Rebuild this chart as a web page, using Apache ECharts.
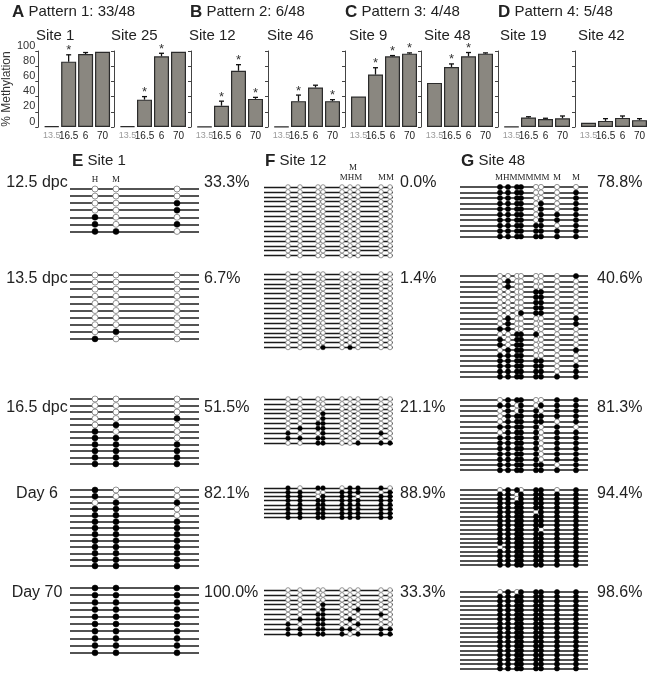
<!DOCTYPE html>
<html>
<head>
<meta charset="utf-8">
<script src="https://cdn.jsdelivr.net/npm/echarts@6/dist/echarts.min.js"></script>
<style>
  html, body { margin: 0; background: #fff; }
  #main { width: 650px; height: 676px; }
</style>
</head>
<body>
<div id="main"></div>
<script>
var FONT = '"Liberation Sans", Arial, sans-serif'
var SERIF = '"Liberation Serif", "DejaVu Serif", serif'

// A-D: % methylation at 13.5 dpc, 16.5 dpc, day 6, day 70
var ages = ['13.5', '16.5', '6', '70']
var siteNames = ['Site 1', 'Site 25', 'Site 12', 'Site 46', 'Site 9', 'Site 48', 'Site 19', 'Site 42']
var meth = [
  [1, 86, 96, 99],
  [1, 36, 93, 99],
  [0.5, 28, 74, 37],
  [0.5, 34, 52, 34],
  [40, 69, 93, 96.5],
  [58, 79, 93, 96.5],
  [0.5, 12.5, 10.5, 11.5],
  [5.5, 8, 12, 9],
]
var methErr = [
  [0, 9, 2, 0],
  [0, 4, 4, 0],
  [0, 6, 8, 2],
  [0, 8, 3, 2],
  [0, 9, 1, 1],
  [0, 4, 5, 1],
  [0, 1, 1, 3],
  [0, 3, 2.5, 2],
]
var methStar = [
  [0, 1, 0, 0],
  [0, 1, 1, 0],
  [0, 1, 1, 1],
  [0, 1, 0, 1],
  [0, 1, 1, 1],
  [0, 1, 1, 0],
  [0, 0, 0, 0],
  [0, 0, 0, 0],
]
var patternTitles = ['{b|A} Pattern 1: 33/48', '{b|B} Pattern 2: 6/48', '{b|C} Pattern 3: 4/48', '{b|D} Pattern 4: 5/48']

// E-G: bisulfite clones, 1 = methylated CpG, 0 = unmethylated
var stages = ['12.5 dpc', '13.5 dpc', '16.5 dpc', 'Day 6', 'Day 70']
var cpgE = [25, 46, 107]
var cpgF = [24, 36, 54, 59, 78, 86, 94, 117, 126]
var cpgG = [40, 48, 57, 61, 76, 81, 97, 116]

var patE = [
  ['000', '000', '001', '001', '100', '101', '110'],
  ['000', '000', '000', '000', '000', '000', '000', '000', '010', '100'],
  ['000', '000', '000', '001', '010', '100', '110', '111', '111', '111', '111'],
  ['100', '100', '011', '110', '110', '111', '111', '111', '111', '111', '111', '111', '111'],
  ['111', '111', '111', '111', '111', '111', '111', '111', '111', '111'],
]
var patF = [
  ['000000000', '000000000', '000000000', '000000000', '000000000', '000000000', '000000000', '000000000',
   '000000000', '000000000', '000000000', '000000000', '000000000', '000000000', '000000000'],
  ['000000000', '000000000', '000000000', '000000000', '000000000', '000000000', '000000000', '000000000',
   '000000000', '000000000', '000000000', '000000000', '000000000', '000000000', '000000000', '000101000'],
  ['000000000', '000000000', '000000000', '000100000', '000100000', '001100000', '011100000', '100100010',
   '111100000', '001100111'],
  ['101101110', '110011101', '110111011', '111111111', '111111111', '111111111', '111111111', '111111111'],
  ['000000000', '000000000', '000000000', '000100000', '000100100', '001100010', '011101000', '101100100',
   '111111011', '111110111'],
]
var patG = [
  ['11110000', '11110001', '11110001', '11110101', '11110101', '11110111', '11110111', '11111101',
   '11111111', '11111111'],
  ['00000001', '01000000', '01000000', '00001100', '00001100', '00001100', '00001100', '00011100',
   '01000001', '01000001', '11000000', '00111000', '10110000', '10110000', '01110001', '11110000',
   '11111100', '11111101', '11111101', '11111111'],
  ['01110011', '11010111', '01011011', '01111111', '01111101', '11111010', '01111011', '11111011',
   '11111011', '11111011', '11111011', '11111011', '11111101', '11111111'],
  ['01101101', '11011111', '11011111', '11111111', '11111111', '11110111', '11111111', '11111111',
   '11111111', '11111011', '11111111', '11111111', '11111111', '01111111', '11111111', '11111111',
   '11111111', '11111111'],
  ['01011111', '11111111', '11111111', '11111111', '11111111', '11111111', '11111111', '11111111',
   '11111111', '11111111', '11111111', '11111111', '11111111', '11111111', '11111111', '11111111',
   '11111111', '11111111'],
]
var pctE = ['33.3%', '6.7%', '51.5%', '82.1%', '100.0%']
var pctF = ['0.0%', '1.4%', '21.1%', '88.9%', '33.3%']
var pctG = ['78.8%', '40.6%', '81.3%', '94.4%', '98.6%']

var chart = echarts.init(document.getElementById('main'))

var grids = []
var xAxes = []
var yAxes = []
var series = []
var graphics = []

function addText(text, x, y, size, opts) {
  opts = opts || {}
  graphics.push({
    type: 'text',
    x: x,
    y: y,
    style: {
      text: text,
      fontSize: size,
      fontFamily: opts.family || FONT,
      fill: opts.fill || '#222',
      align: opts.align || 'left',
      verticalAlign: 'middle',
      rich: {
        b: { fontSize: size + 2, fontWeight: 'bold', fontFamily: FONT, fill: '#222' },
      },
    },
  })
}

// error bar and asterisk on top of each bar
function renderErr(params, api) {
  var v = api.value(1)
  var e = api.value(2)
  var top = api.coord([api.value(0), v + e])
  var base = api.coord([api.value(0), v])
  var kids = []
  if (e > 0) {
    kids.push({ type: 'line', shape: { x1: top[0], y1: top[1], x2: base[0], y2: base[1] }, style: { stroke: '#111', lineWidth: 1.3 } })
    kids.push({ type: 'line', shape: { x1: top[0] - 2.5, y1: top[1], x2: top[0] + 2.5, y2: top[1] }, style: { stroke: '#111', lineWidth: 1.3 } })
  }
  if (api.value(3)) {
    kids.push({
      type: 'text',
      style: { text: '*', x: top[0], y: top[1] - 4, align: 'center', verticalAlign: 'middle', fontSize: 13, fontFamily: FONT, fill: '#333' },
    })
  }
  return { type: 'group', children: kids }
}

//柱状图 A-D
var barLeft = [43, 119, 196, 273, 350, 426, 503, 580]
var siteX = [36, 111, 189, 267, 349, 424, 500, 578]
siteNames.forEach(function (name, i) {
  grids.push({ left: barLeft[i], top: 51, width: 68, height: 76 })
  xAxes.push({
    type: 'category',
    gridIndex: i,
    data: ages,
    axisLine: { show: false },
    axisTick: { show: false },
    axisLabel: {
      interval: 0,
      margin: 4,
      fontSize: 10,
      color: '#222',
      fontFamily: FONT,
      formatter: function (v) {
        return v === '13.5' ? '{g|' + v + '}' : v
      },
      rich: { g: { color: '#9a9a9a', fontSize: 9, fontFamily: FONT } },
    },
  })
  yAxes.push({
    type: 'value',
    gridIndex: i,
    min: 0,
    max: 100,
    interval: 20,
    offset: 5,
    name: i === 0 ? '% Methylation' : '',
    nameLocation: 'middle',
    nameGap: 24,
    nameRotate: 90,
    nameTextStyle: { fontSize: 12, color: '#333', fontFamily: FONT },
    axisLine: { show: true, lineStyle: { color: '#444', width: 1 } },
    axisTick: { show: true, length: 3, lineStyle: { color: '#444' } },
    splitLine: { show: false },
    axisLabel: { show: i === 0, fontSize: 11, color: '#333', fontFamily: FONT, margin: 3, verticalAlign: 'bottom' },
  })
  series.push({
    type: 'bar',
    xAxisIndex: i,
    yAxisIndex: i,
    data: meth[i],
    barWidth: 15,
    itemStyle: { color: '#8a8780', borderColor: '#2b2b2b', borderWidth: 1.2 },
  })
  series.push({
    type: 'custom',
    xAxisIndex: i,
    yAxisIndex: i,
    data: meth[i].map(function (v, k) {
      return [k, v, methErr[i][k], methStar[i][k]]
    }),
    renderItem: renderErr,
    z: 5,
  })
  addText(name, siteX[i], 36, 15)
})

var titleX = [12, 190, 345, 498]
patternTitles.forEach(function (t, i) {
  addText(t, titleX[i], 12, 15)
})

//甲基化克隆 E-G
var panels = [
  { title: '{b|E} Site 1', titleX: 72, cpg: cpgE, pat: patE, pct: pctE, left: 70, width: 129, pctX: 204, dot: 6, lw: 1.7,
    first: [189, 275, 399, 490, 588], step: [7.07, 7.1, 6.5, 6.33, 7.2] },
  { title: '{b|F} Site 12', titleX: 265, cpg: cpgF, pat: patF, pct: pctF, left: 264, width: 129, pctX: 400, dot: 4.6, lw: 1.3,
    first: [187, 274, 399, 488, 590], step: [4.9, 4.9, 4.9, 4.2, 4.9] },
  { title: '{b|G} Site 48', titleX: 461, cpg: cpgG, pat: patG, pct: pctG, left: 460, width: 128, pctX: 597, dot: 5.2, lw: 1.5,
    first: [187, 276, 400, 490, 592], step: [5.5, 5.3, 5.4, 4.4, 4.5] },
]
var labelY = [183, 279, 408, 494, 593]

panels.forEach(function (p) {
  addText(p.title, p.titleX, 161, 15)
  p.pat.forEach(function (rows, b) {
    var g = grids.length
    var n = rows.length
    grids.push({ left: p.left, top: p.first[b], width: p.width, height: (n - 1) * p.step[b] })
    xAxes.push({ type: 'value', gridIndex: g, min: 0, max: p.width, show: false, splitLine: { show: false } })
    yAxes.push({
      type: 'value',
      gridIndex: g,
      min: 0,
      max: n - 1,
      interval: 1,
      inverse: true,
      axisLine: { show: false },
      axisTick: { show: false },
      axisLabel: { show: false },
      splitLine: { show: true, lineStyle: { color: '#1a1a1a', width: p.lw } },
    })
    var filled = []
    var open = []
    rows.forEach(function (row, r) {
      p.cpg.forEach(function (x, c) {
        ;(row[c] === '1' ? filled : open).push([x, r])
      })
    })
    series.push({
      type: 'scatter', xAxisIndex: g, yAxisIndex: g, data: open, symbolSize: p.dot, clip: false,
      itemStyle: { color: '#fff', borderColor: '#777', borderWidth: 0.8, opacity: 1 },
    })
    series.push({
      type: 'scatter', xAxisIndex: g, yAxisIndex: g, data: filled, symbolSize: p.dot, clip: false,
      itemStyle: { color: '#000', borderColor: '#000', borderWidth: 0.5, opacity: 1 },
    })
    addText(p.pct[b], p.pctX, labelY[b], 16)
  })
})

stages.forEach(function (s, b) {
  addText(s, 37, labelY[b], 16, { align: 'center' })
})

// restriction site labels above the CpGs
addText('H', 95, 180, 9, { family: SERIF, align: 'center' })
addText('M', 116, 180, 9, { family: SERIF, align: 'center' })
addText('M', 353, 168, 9, { family: SERIF, align: 'center' })
addText('MHM', 351, 178, 9, { family: SERIF, align: 'center' })
addText('MM', 386, 178, 9, { family: SERIF, align: 'center' })
addText('MHMMMMM', 495, 178, 9, { family: SERIF })
addText('M', 557, 178, 9, { family: SERIF, align: 'center' })
addText('M', 576, 178, 9, { family: SERIF, align: 'center' })

chart.setOption({
  animation: false,
  grid: grids,
  xAxis: xAxes,
  yAxis: yAxes,
  series: series,
  graphic: graphics,
})

window.addEventListener('resize', function () {
  chart.resize()
})
</script>
</body>
</html>
